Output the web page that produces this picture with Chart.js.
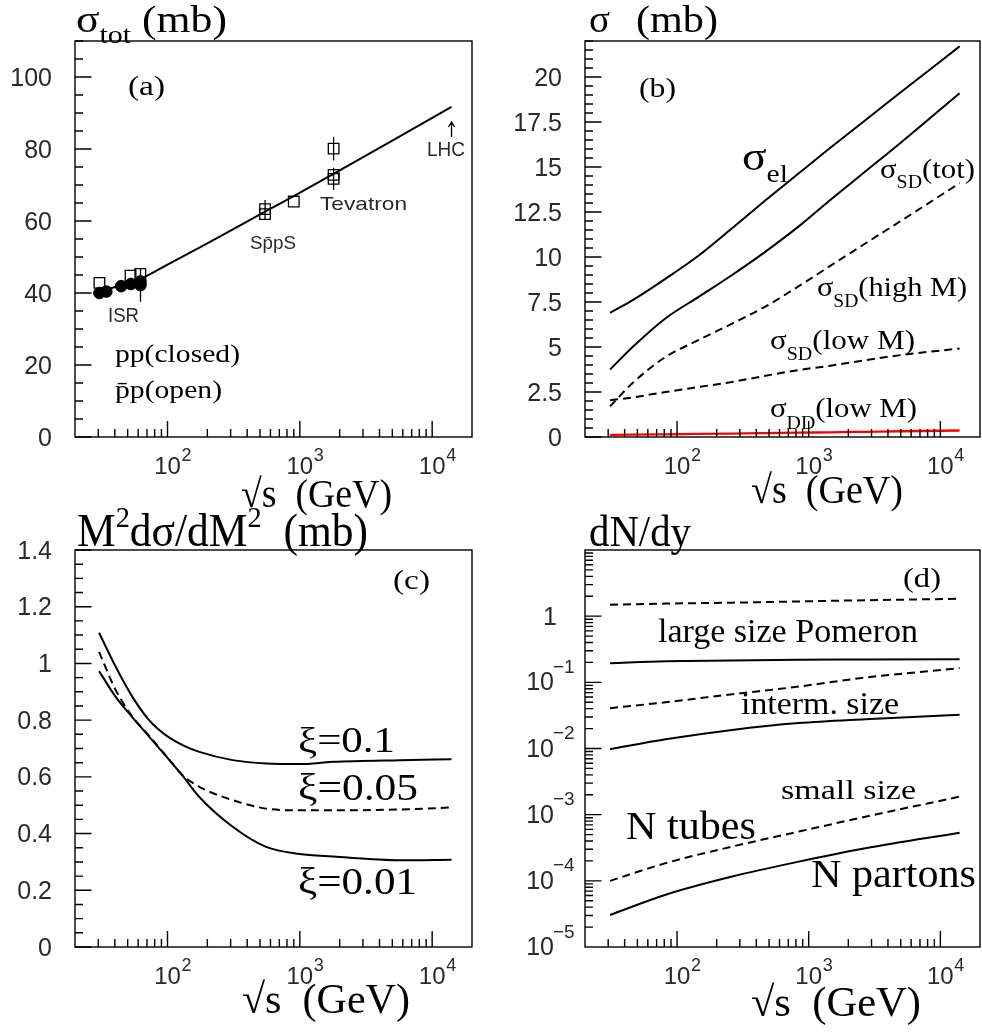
<!DOCTYPE html>
<html><head><meta charset="utf-8">
<script src="https://cdn.jsdelivr.net/npm/chart.js@4.4.1/dist/chart.umd.min.js"></script>
<style>
html,body{margin:0;padding:0;background:#fff;}
#wrap{position:relative;width:982px;height:1034px;overflow:hidden;}
canvas{position:absolute;left:0;top:0;}
</style></head><body><div id="wrap">
<canvas id="ca" width="982" height="1034"></canvas>
<canvas id="cb" width="982" height="1034"></canvas>
<canvas id="cc" width="982" height="1034"></canvas>
<canvas id="cd" width="982" height="1034"></canvas>
</div>
<script>
// ================= DATA =================
const xTickValues = [100, 1000, 10000];
const xTickExps = ['2', '3', '4'];

// (a) total cross section
const ppSqrtS  = [30.6, 34.5, 44.7, 52.8, 62.5, 62.5];
const ppSigma  = [40.0, 40.4, 41.9, 42.5, 43.2, 42.2];
const ppErr    = [0, 0, 0, 0, 0, 4.6];
const pbarSqrtS = [30.6, 52.6, 62.3, 546, 546, 900, 1800, 1800, 1800];
const pbarSigma = [42.8, 44.8, 45.3, 61.9, 63.3, 65.4, 80.1, 72.8, 71.7];
const pbarErr   = [0, 0, 0, 1.5, 2.5, 0, 3.3, 0, 3.1];
const fitSqrtS = [30, 63, 100, 200, 546, 900, 1800, 5000, 14000];
const fitSigma = [40.3, 44.0, 47.9, 53.8, 62.6, 66.9, 73.1, 82.3, 91.7];
const lhcArrow = [14000, 83.3, 87.5];
const aYTicks  = [0, 20, 40, 60, 80, 100];
const aYLabels = ['0', '20', '40', '60', '80', '100'];

// (b) partial cross sections
const bSqrtS   = [31, 46, 82, 147, 262, 470, 840, 1420, 2690, 5000, 14000];
const sigEl    = [6.9, 7.6, 8.8, 10.1, 11.6, 13.15, 14.65, 16.0, 17.6, 19.15, 21.7];
const sigSDtot = [3.75, 5.0, 6.6, 7.8, 9.0, 10.3, 11.7, 13.1, 14.75, 16.35, 19.1];
const sigSDhigh = [1.7, 3.0, 4.45, 5.4, 6.3, 7.25, 8.38, 9.45, 10.75, 12.0, 14.1];
const sigSDlow = [2.04, 2.2, 2.5, 2.78, 3.06, 3.4, 3.72, 3.95, 4.27, 4.55, 4.92];
const sigDDlow = [0.12, 0.13, 0.15, 0.17, 0.19, 0.21, 0.24, 0.26, 0.29, 0.32, 0.36];
const bYTicks  = [0, 2.5, 5, 7.5, 10, 12.5, 15, 17.5, 20];
const bYLabels = ['0', '2.5', '5', '7.5', '10', '12.5', '15', '17.5', '20'];

// (c) M^2 dsigma/dM^2
const cSqrtS = [30.4, 40.6, 54.3, 72.6, 97, 130, 174, 311, 556, 994, 1778, 5690, 14000];
const xi010  = [1.108, 0.988, 0.882, 0.800, 0.747, 0.712, 0.688, 0.659, 0.647, 0.645, 0.653, 0.659, 0.662];
const xi005  = [1.041, 0.906, 0.812, 0.745, 0.676, 0.606, 0.565, 0.518, 0.488, 0.482, 0.482, 0.485, 0.492];
const xi001  = [0.973, 0.882, 0.810, 0.742, 0.674, 0.604, 0.529, 0.424, 0.353, 0.328, 0.319, 0.306, 0.308];
const cYTicks  = [0, 0.2, 0.4, 0.6, 0.8, 1.0, 1.2, 1.4];
const cYLabels = ['0', '0.2', '0.4', '0.6', '0.8', '1', '1.2', '1.4'];

// (d) dN/dy
const dSqrtS = [31, 82, 262, 840, 2690, 14000];
const largeTubes   = [1.49, 1.55, 1.60, 1.67, 1.74, 1.83];
const largePartons = [0.195, 0.209, 0.214, 0.219, 0.221, 0.224];
const intermTubes  = [0.0407, 0.050, 0.066, 0.0863, 0.118, 0.164];
const intermPartons = [0.00977, 0.0138, 0.0191, 0.0242, 0.0277, 0.0324];
const smallTubes   = [1.0e-4, 1.85e-4, 3.29e-4, 5.55e-4, 9.3e-4, 1.87e-3];
const smallPartons = [3.05e-5, 6.17e-5, 1.16e-4, 1.95e-4, 3.11e-4, 5.35e-4];
const dYTicks = [1e-5, 1e-4, 1e-3, 1e-2, 1e-1, 1];
const dYExps  = ['\u22125', '\u22124', '\u22123', '\u22122', '\u22121', ''];

// ================= HELPERS =================
const SERIF = '"Liberation Serif","Times New Roman",serif';
const SANS = '"Liberation Sans",Arial,sans-serif';
const LABEL_COLOR = '#2a2a2a';

function pts(xs, ys) { return xs.map((x, i) => ({ x: x, y: ys[i] })); }
function curve(xs, ys, extra) {
  return Object.assign({
    data: pts(xs, ys), showLine: true, pointRadius: 0, borderColor: '#000',
    borderWidth: 2, fill: false, tension: 0.4, cubicInterpolationMode: 'monotone'
  }, extra || {});
}
const DASH = [8, 5];

function drawText(ctx, it) {
  const fam = it.fam || SERIF;
  const runs = it.runs || [{ t: it.t, s: it.s }];
  let total = 0;
  const widths = runs.map(r => { ctx.font = r.s + 'px ' + fam; const w = ctx.measureText(r.t).width; total += w; return w; });
  const sx = (it.x1 != null) ? (it.x1 - it.x0) / total : 1;
  ctx.save();
  ctx.translate(it.x0, it.y);
  ctx.scale(sx, 1);
  ctx.fillStyle = it.color || '#000';
  ctx.textAlign = 'left'; ctx.textBaseline = 'alphabetic';
  let x = 0;
  runs.forEach((r, i) => { ctx.font = r.s + 'px ' + fam; ctx.fillText(r.t, x, r.dy || 0); x += widths[i]; });
  ctx.restore();
}

function axisPlugin(spec) {
  return {
    id: 'rootAxes',
    afterDraw(chart) {
      const ctx = chart.ctx, a = chart.chartArea, sx = chart.scales.x, sy = chart.scales.y;
      ctx.save();
      ctx.strokeStyle = '#000'; ctx.lineWidth = 1.4; ctx.setLineDash([]);
      ctx.beginPath();
      for (let d = 1; d <= 4; d++) for (let m = 1; m <= 9; m++) {
        const v = m * Math.pow(10, d);
        const px = sx.getPixelForValue(v);
        if (px <= a.left + 1 || px >= a.right - 1) continue;
        const L = (m === 1) ? 16 : 8;
        ctx.moveTo(px, a.bottom); ctx.lineTo(px, a.bottom - L);
      }
      if (spec.yLog) {
        for (let d = -5; d <= 1; d++) for (let m = 1; m <= 9; m++) {
          const v = m * Math.pow(10, d);
          const py = sy.getPixelForValue(v);
          if (py >= a.bottom - 0.5 || py <= a.top + 0.5) continue;
          const L = (m === 1) ? 16.5 : 8;
          ctx.moveTo(a.left, py); ctx.lineTo(a.left + L, py);
        }
      } else {
        const n = Math.round((sy.max - sy.min) / spec.yMinor);
        for (let i = 0; i <= n; i++) {
          const v = sy.min + i * spec.yMinor;
          const py = sy.getPixelForValue(v);
          const q = v / spec.yMajor;
          const L = (Math.abs(q - Math.round(q)) < 1e-6) ? 16.5 : 8;
          ctx.moveTo(a.left, py); ctx.lineTo(a.left + L, py);
        }
      }
      ctx.stroke();
      ctx.strokeRect(a.left, a.top, a.right - a.left, a.bottom - a.top);

      // tick labels
      ctx.fillStyle = LABEL_COLOR;
      ctx.textBaseline = 'alphabetic';
      xTickValues.forEach((v, i) => {
        const px = sx.getPixelForValue(v);
        ctx.font = '24px ' + SANS; ctx.textAlign = 'center';
        ctx.fillText('10', px, a.bottom + 37);
        ctx.font = '18px ' + SANS; ctx.textAlign = 'left';
        ctx.fillText(xTickExps[i], px + 14, a.bottom + 24);
      });
      if (spec.yLog) {
        spec.yTicks.forEach((v, i) => {
          const py = sy.getPixelForValue(v);
          if (spec.yExps[i] === '') {
            ctx.font = '25px ' + SANS; ctx.textAlign = 'right';
            ctx.fillText('1', spec.yRight + 3, py + 9);
          } else {
            ctx.font = '25px ' + SANS; ctx.textAlign = 'right';
            ctx.fillText('10', spec.yRight, py + 8);
            ctx.font = '19px ' + SANS; ctx.textAlign = 'left';
            ctx.fillText(spec.yExps[i], spec.yRight - 1, py - 9.5);
          }
        });
      } else {
        ctx.font = '25px ' + SANS; ctx.textAlign = 'right';
        spec.yTicks.forEach((v, i) => {
          ctx.fillText(spec.yLabels[i], spec.yRight, sy.getPixelForValue(v) + 8.5);
        });
      }
      if (spec.extra) spec.extra(chart, ctx);
      (spec.texts || []).forEach(t => drawText(ctx, t));
      ctx.restore();
    }
  };
}

function makeChart(id, pad, yScale, datasets, spec) {
  return new Chart(document.getElementById(id), {
    type: 'scatter',
    data: { datasets: datasets },
    options: {
      responsive: false, animation: false, events: [],
      layout: { padding: pad },
      plugins: { legend: { display: false }, tooltip: { enabled: false }, title: { display: false } },
      scales: {
        x: { type: 'logarithmic', min: 20, max: 20000, display: false },
        y: Object.assign({ display: false }, yScale)
      }
    },
    plugins: [axisPlugin(spec)]
  });
}

// ================= PANEL (a) =================
makeChart('ca', { left: 75, top: 41, right: 510, bottom: 597 },
  { type: 'linear', min: 0, max: 110 },
  [
    { data: pts(ppSqrtS, ppSigma), pointStyle: 'circle', pointRadius: 5.8, backgroundColor: '#000', borderColor: '#000', borderWidth: 1 },
    { data: pts(pbarSqrtS, pbarSigma), pointStyle: 'rect', pointRadius: 7.5, backgroundColor: 'rgba(0,0,0,0)', borderColor: '#000', borderWidth: 1.3 },
    curve(fitSqrtS, fitSigma, { tension: 0.3 })
  ],
  {
    yMajor: 20, yMinor: 5, yTicks: aYTicks, yLabels: aYLabels, yRight: 52,
    extra: function (chart, ctx) {
      const sx = chart.scales.x, sy = chart.scales.y;
      ctx.strokeStyle = '#000'; ctx.lineWidth = 1.3;
      ctx.beginPath();
      const bars = (xs, ys, es) => xs.forEach((x, i) => {
        if (!es[i]) return;
        const px = sx.getPixelForValue(x);
        ctx.moveTo(px, sy.getPixelForValue(ys[i] - es[i]));
        ctx.lineTo(px, sy.getPixelForValue(ys[i] + es[i]));
      });
      bars(pbarSqrtS, pbarSigma, pbarErr);
      bars(ppSqrtS, ppSigma, ppErr);
      const ax = sx.getPixelForValue(lhcArrow[0]);
      const y0 = sy.getPixelForValue(lhcArrow[1]), y1 = sy.getPixelForValue(lhcArrow[2]);
      ctx.moveTo(ax, y0); ctx.lineTo(ax, y1);
      ctx.moveTo(ax - 3, y1 + 5); ctx.lineTo(ax, y1); ctx.lineTo(ax + 3, y1 + 5);
      ctx.stroke();
    },
    texts: [
      { runs: [{ t: '\u03c3', s: 38 }, { t: 'tot', s: 26, dy: 11 }, { t: ' (mb)', s: 38 }], x0: 76, x1: 227, y: 31.5 },
      { t: '(a)', s: 28, x0: 128, x1: 165, y: 95 },
      { t: 'LHC', s: 21, fam: SANS, x0: 427, x1: 465, y: 156, color: LABEL_COLOR },
      { t: 'Tevatron', s: 19, fam: SANS, x0: 320, x1: 407, y: 210, color: LABEL_COLOR },
      { t: 'Sp\u0304pS', s: 18, fam: SANS, x0: 250, x1: 296, y: 249, color: LABEL_COLOR },
      { t: 'ISR', s: 21, fam: SANS, x0: 108, x1: 139, y: 321.5, color: LABEL_COLOR },
      { t: 'pp(closed)', s: 26, x0: 115, x1: 240, y: 361.5 },
      { t: 'p\u0304p(open)', s: 26, x0: 115, x1: 222, y: 398 },
      { t: '\u221as  (GeV)', s: 40, x0: 241, x1: 392, y: 507 }
    ]
  });

// ================= PANEL (b) =================
makeChart('cb', { left: 585, top: 41, right: 2, bottom: 597 },
  { type: 'linear', min: 0, max: 22 },
  [
    curve(bSqrtS, sigEl),
    curve(bSqrtS, sigSDtot),
    curve(bSqrtS, sigSDhigh, { borderDash: DASH }),
    curve(bSqrtS, sigSDlow, { borderDash: DASH }),
    curve(bSqrtS, sigDDlow, { borderColor: '#ff0000', borderWidth: 2.3 })
  ],
  {
    yMajor: 2.5, yMinor: 0.5, yTicks: bYTicks, yLabels: bYLabels, yRight: 562,
    texts: [
      { t: '\u03c3', s: 38, x0: 589, x1: 610, y: 31.5 },
      { t: '(mb)', s: 38, x0: 636, x1: 718, y: 31.5 },
      { t: '(b)', s: 28, x0: 639, x1: 676, y: 96.5 },
      { runs: [{ t: '\u03c3', s: 40 }, { t: 'el', s: 26, dy: 12 }], x0: 742, x1: 788, y: 170 },
      { runs: [{ t: '\u03c3', s: 28 }, { t: 'SD', s: 18, dy: 10 }, { t: '(tot)', s: 28 }], x0: 880, x1: 975, y: 178 },
      { runs: [{ t: '\u03c3', s: 28 }, { t: 'SD', s: 18, dy: 11 }, { t: '(high M)', s: 28 }], x0: 817, x1: 967, y: 295.5 },
      { runs: [{ t: '\u03c3', s: 28 }, { t: 'SD', s: 18, dy: 11 }, { t: '(low M)', s: 28 }], x0: 770, x1: 915, y: 349 },
      { runs: [{ t: '\u03c3', s: 28 }, { t: 'DD', s: 18, dy: 12 }, { t: '(low M)', s: 28 }], x0: 770, x1: 917, y: 417 },
      { t: '\u221as  (GeV)', s: 40, x0: 751, x1: 903, y: 503 }
    ]
  });

// ================= PANEL (c) =================
makeChart('cc', { left: 75, top: 550, right: 510, bottom: 87 },
  { type: 'linear', min: 0, max: 1.4 },
  [
    curve(cSqrtS, xi010),
    curve(cSqrtS, xi005, { borderDash: DASH }),
    curve(cSqrtS, xi001)
  ],
  {
    yMajor: 0.2, yMinor: 0.05, yTicks: cYTicks, yLabels: cYLabels, yRight: 52,
    texts: [
      { runs: [{ t: 'M', s: 46 }, { t: '2', s: 30, dy: -19 }, { t: 'd\u03c3/dM', s: 46 }, { t: '2', s: 30, dy: -19 }, { t: '  (mb)', s: 46 }], x0: 77, x1: 368, y: 545.5 },
      { t: '(c)', s: 28, x0: 393, x1: 430, y: 588.5 },
      { t: '\u03be=0.1', s: 36, x0: 298, x1: 395, y: 752 },
      { t: '\u03be=0.05', s: 38, x0: 298, x1: 418, y: 800 },
      { t: '\u03be=0.01', s: 38, x0: 298, x1: 417, y: 894 },
      { t: '\u221as  (GeV)', s: 42, x0: 242, x1: 410, y: 1013 }
    ]
  });

// ================= PANEL (d) =================
makeChart('cd', { left: 585, top: 550, right: 2, bottom: 87 },
  { type: 'logarithmic', min: 1e-5, max: 10 },
  [
    curve(dSqrtS, largeTubes, { borderDash: DASH }),
    curve(dSqrtS, largePartons),
    curve(dSqrtS, intermTubes, { borderDash: DASH }),
    curve(dSqrtS, intermPartons),
    curve(dSqrtS, smallTubes, { borderDash: DASH }),
    curve(dSqrtS, smallPartons)
  ],
  {
    yLog: true, yTicks: dYTicks, yExps: dYExps, yRight: 554,
    texts: [
      { t: 'dN/dy', s: 45, x0: 589, x1: 691, y: 545.5 },
      { t: '(d)', s: 28, x0: 903, x1: 941, y: 587 },
      { t: 'large size Pomeron', s: 33, x0: 658, x1: 918, y: 642 },
      { t: 'interm. size', s: 32, x0: 741, x1: 899, y: 714 },
      { t: 'small size', s: 28, x0: 781, x1: 916, y: 799 },
      { t: 'N tubes', s: 40, x0: 626, x1: 756, y: 839 },
      { t: 'N partons', s: 40, x0: 811, x1: 976, y: 887 },
      { t: '\u221as  (GeV)', s: 42, x0: 751, x1: 921, y: 1016 }
    ]
  });
</script>
</body></html>
